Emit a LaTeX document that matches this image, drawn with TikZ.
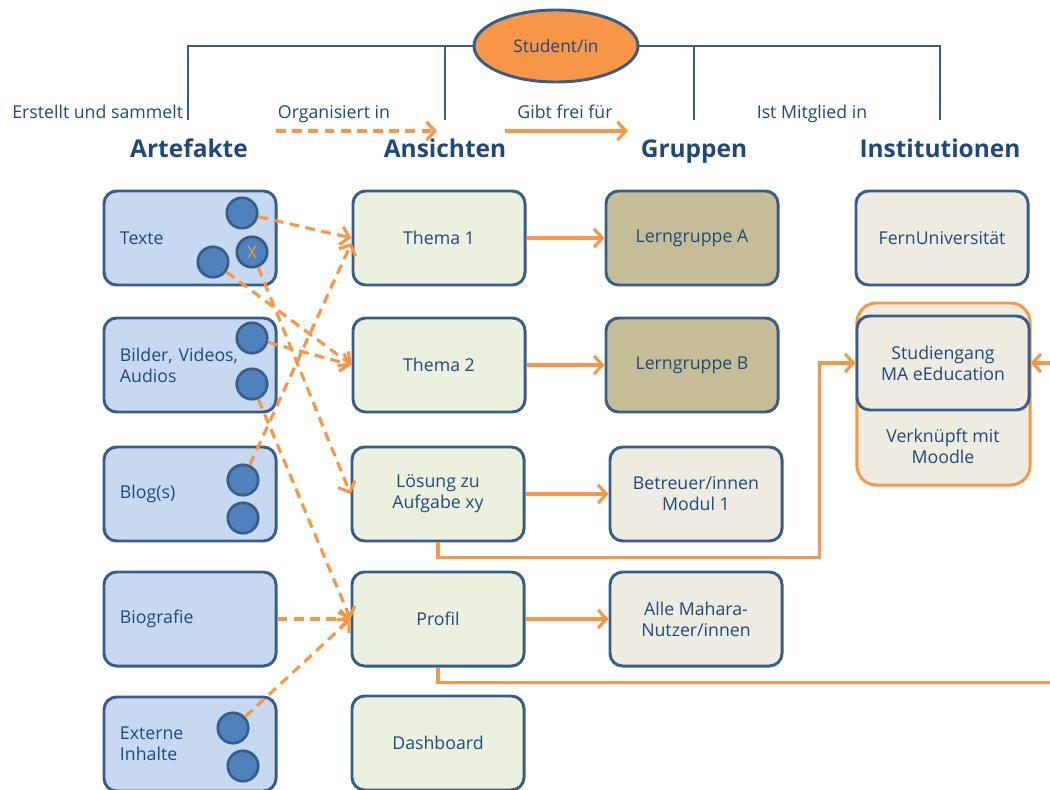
\documentclass[tikz,border=0pt]{standalone}
\usepackage{fontspec}
\setmainfont{Open Sans}
\usetikzlibrary{positioning,shapes.geometric,arrows.meta,calc}
\definecolor{frameblue}{RGB}{56,93,138}
\definecolor{inkblue}{RGB}{31,73,125}
\definecolor{mahorange}{RGB}{247,150,70}
\definecolor{artfill}{RGB}{198,217,241}
\definecolor{viewfill}{RGB}{235,241,222}
\definecolor{groupfill}{RGB}{196,189,151}
\definecolor{instfill}{RGB}{238,236,225}
\definecolor{dotfill}{RGB}{79,129,189}

\begin{document}
\begin{tikzpicture}[
    x=0.025cm, y=-0.025cm,
    box/.style={rectangle, draw=frameblue, line width=2.1pt, rounded corners=9pt, minimum width=4.3cm, minimum height=2.35cm, text=inkblue, font=\fontsize{12.6}{15}\selectfont, align=center, inner sep=2pt},
    artbox/.style={box, fill=artfill, text width=3.5cm, inner xsep=0.4cm, align=left},
    viewbox/.style={box, fill=viewfill},
    groupbox/.style={box, fill=groupfill},
    instbox/.style={box, fill=instfill},
    dot/.style={circle, draw=frameblue, line width=1.9pt, fill=dotfill, minimum size=0.76cm, inner sep=0pt},
    heading/.style={anchor=base, text=inkblue, font=\fontsize{17.4}{20}\selectfont\bfseries},
    relation/.style={anchor=base, text=inkblue, font=\fontsize{12.6}{15}\selectfont},
    tree/.style={draw=frameblue, line width=1.5pt},
    share/.style={draw=mahorange, line width=2.2pt, -{Straight Barb[length=6pt, width=13pt]}},
    pick/.style={share, dash pattern=on 7pt off 4.5pt}
]
    \useasboundingbox (0,0) rectangle (1050,789);

    % top: student and relations
    \node[heading] (artHead) at (189,157) {Artefakte};
    \node[heading] (viewHead) at (445,157) {Ansichten};
    \node[heading] (groupHead) at (694,157) {Gruppen};
    \node[heading] (instHead) at (940,157) {Institutionen};
    \coordinate (artTop) at (188,120);
    \coordinate (viewTop) at (445,120);
    \coordinate (groupTop) at (694,120);
    \coordinate (instTop) at (940,120);
    \coordinate (treeLine) at (556,46);
    \draw[tree] (artTop) |- (treeLine) -| (instTop);
    \draw[tree] (viewTop) -- (viewTop |- treeLine);
    \draw[tree] (groupTop) -- (groupTop |- treeLine);
    \node[ellipse, draw=frameblue, line width=2.1pt, fill=mahorange, minimum width=4.1cm, minimum height=1.8cm, text=inkblue, font=\fontsize{12.4}{15}\selectfont] (student) at (treeLine) {Student/in};

    \node[relation, anchor=base east] (creates) at (188,118) {Erstellt und sammelt};
    \node[relation] (organises) at (334,118) {Organisiert in};
    \node[relation] (releases) at (565,118) {Gibt frei für};
    \node[relation] (member) at (812,118) {Ist Mitglied in};
    \coordinate (pickFrom) at (276,131);
    \coordinate (pickTo) at (437,131);
    \coordinate (shareFrom) at (505,131);
    \coordinate (shareTo) at (628,131);
    \draw[pick] (pickFrom) -- (pickTo);
    \draw[share] (shareFrom) -- (shareTo);

    % Artefakte
    \node[artbox] (texte) at (190,238) {Texte};
    \node[artbox] (bilder) at (190,365) {Bilder, Videos,\\Audios};
    \node[artbox] (blog) at (190,494) {Blog(s)};
    \node[artbox] (biografie) at (190,619) {Biografie};
    \node[artbox] (extern) at (190,744) {Externe\\Inhalte};
    \node[dot] (texteA) at (242,213) {};
    \node[dot, text=mahorange, font=\fontsize{12}{14}\selectfont] (texteX) at (252,252) {X};
    \node[dot] (texteB) at (213,262) {};
    \node[dot] (bilderA) at (252,338) {};
    \node[dot] (bilderB) at (252,384) {};
    \node[dot] (blogA) at (243,480) {};
    \node[dot] (blogB) at (243,518) {};
    \node[dot] (externA) at (233,728) {};
    \node[dot] (externB) at (243,766) {};

    % Ansichten
    \node[viewbox] (thema1) at (439,238) {Thema 1};
    \node[viewbox] (thema2) at (439,365) {Thema 2};
    \node[viewbox] (loesung) at (438,494) {Lösung zu\\Aufgabe xy};
    \node[viewbox] (profil) at (438,619) {Profil};
    \node[viewbox] (dashboard) at (438,743) {Dashboard};

    % Gruppen
    \node[groupbox] (gruppeA) at (692,238) {Lerngruppe A};
    \node[groupbox] (gruppeB) at (692,365) {Lerngruppe B};
    \node[instbox] (betreuer) at (696,494) {Betreuer/innen\\Modul 1};
    \node[instbox] (alle) at (696,619) {Alle Mahara-\\Nutzer/innen};

    % Institutionen
    \node[instbox] (fernuni) at (942,238) {FernUniversität};
    \node[rectangle, draw=mahorange, fill=instfill, line width=2.1pt, rounded corners=14pt, minimum width=4.33cm, minimum height=4.55cm] (moodle) at (943.5,394) {};
    \node[instbox] (studium) at (943,363) {Studiengang\\MA eEducation};
    \node[text=inkblue, font=\fontsize{12.6}{15}\selectfont, align=center] (moodleText) at (943,446) {Verknüpft mit\\Moodle};

    % Artefakte -> Ansichten
    \draw[pick] (texteA) -- (thema1.west);
    \draw[pick] (texteB) -- (thema2.west);
    \draw[pick] (texteX) -- (loesung.west);
    \draw[pick] (bilderA) -- (thema2.west);
    \draw[pick] (bilderB) -- (profil.west);
    \draw[pick] (blogA) -- ($(thema1.west)+(0,5)$);
    \draw[pick] (biografie) -- (profil);
    \draw[pick] (externA) -- (profil.west);

    % Ansichten -> Gruppen
    \draw[share] (thema1) -- (gruppeA);
    \draw[share] (thema2) -- (gruppeB);
    \draw[share] (loesung) -- (betreuer);
    \draw[share] (profil) -- (alle);

    % Ansichten -> Institutionen
    \draw[share] (loesung.south) -- ++(0,15) -| ($(studium.west)+(-36,0)$) -- (studium.west);
    \draw[share] (profil.south) -- ++(0,15) -| ($(studium.east)+(40,0)$) -- (studium.east);
\end{tikzpicture}
\end{document}
